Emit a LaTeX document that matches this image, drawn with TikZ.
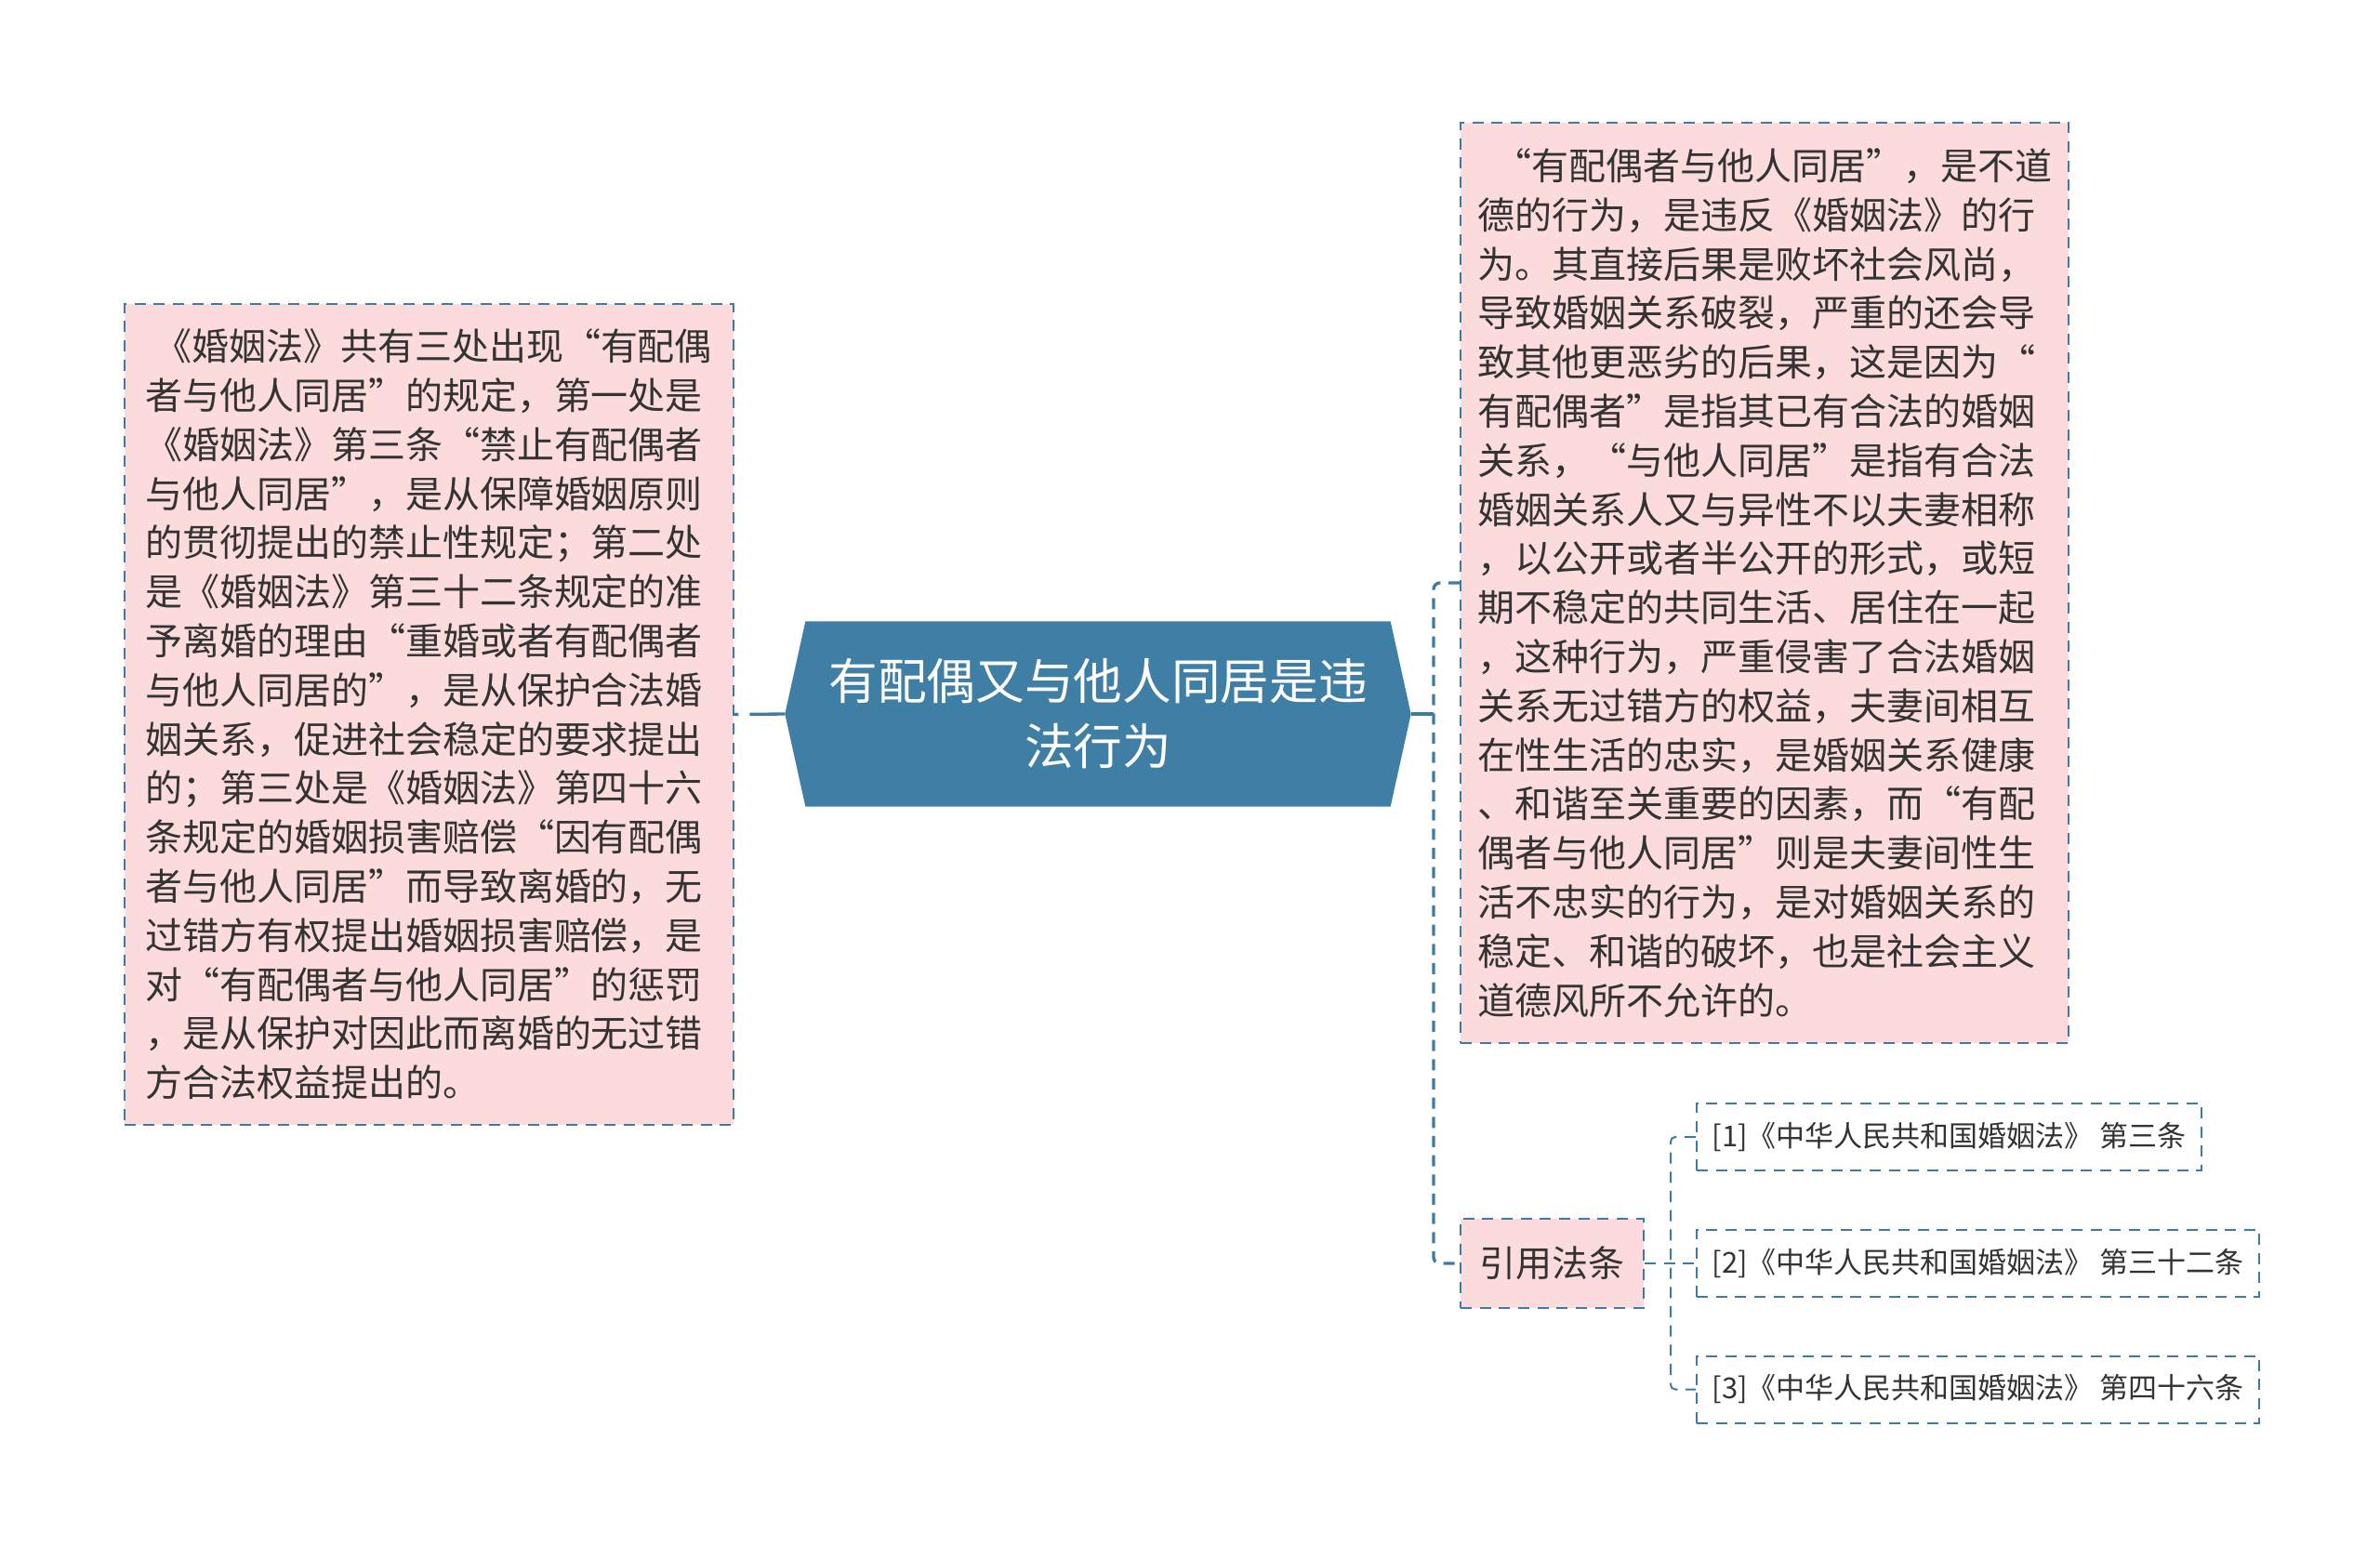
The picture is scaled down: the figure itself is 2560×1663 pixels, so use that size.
\documentclass[tikz,border=0pt]{standalone}
\usepackage{fontspec}
\setmainfont{Noto Sans CJK SC}
\usepackage{tikz}
\usetikzlibrary{calc,backgrounds}
\definecolor{linkblue}{HTML}{3E7BA3}
\definecolor{topicblue}{HTML}{3F7EA5}
\definecolor{notepink}{HTML}{FBDBDB}
\definecolor{inkgray}{HTML}{333333}
\tikzset{
	notebox/.style={draw=linkblue, line width=0.6pt, dash pattern=on 3.6pt off 2.6pt, fill=notepink, text=inkgray, align=left, inner sep=0pt, font=\fontsize{12}{15.84}\selectfont},
	refbox/.style={draw=linkblue, line width=0.6pt, dash pattern=on 3.6pt off 2.6pt, text=inkgray, inner xsep=5pt, inner ysep=0pt, minimum height=21.6pt, anchor=west, font=\fontsize{9.3}{11}\selectfont},
	link/.style={draw=linkblue, line width=1pt},
	branch/.style={draw=linkblue, line width=0.6pt, dash pattern=on 3.6pt off 2.6pt, rounded corners=1.5pt}
}

\begin{document}
\begin{tikzpicture}[x=0.3pt, y=-0.3pt]
		%%%%% START %%%%%
		\useasboundingbox (0, 0) rectangle (2560, 1663);
		
		\node[text=white, align=center, minimum width=188.4pt, minimum height=59.4pt, inner sep=0pt, font=\fontsize{15.8}{21}\selectfont] (topic) at (1181, 768) {有配偶又与他人同居是违\\法行为};
		\coordinate (tipL) at ($(topic.west)+(-22, 0)$);
		\coordinate (tipR) at ($(topic.east)+(22, 0)$);
		\begin{pgfonlayer}{background}
			\fill[topicblue] (topic.north west) -- (topic.north east) -- (tipR) -- (topic.south east) -- (topic.south west) -- (tipL) -- cycle;
		\end{pgfonlayer}
		
		\node[notebox, minimum width=196.5pt, minimum height=264.9pt] (lbox) at (461, 768.5) {\hspace*{0.25em}《婚姻法》共有三处出现“有配偶\\者与他人同居”的规定，第一处是\\《婚姻法》第三条“禁止有配偶者\\与他人同居”，是从保障婚姻原则\\的贯彻提出的禁止性规定；第二处\\是《婚姻法》第三十二条规定的准\\予离婚的理由“重婚或者有配偶者\\与他人同居的”，是从保护合法婚\\姻关系，促进社会稳定的要求提出\\的；第三处是《婚姻法》第四十六\\条规定的婚姻损害赔偿“因有配偶\\者与他人同居”而导致离婚的，无\\过错方有权提出婚姻损害赔偿，是\\对“有配偶者与他人同居”的惩罚\\，是从保护对因此而离婚的无过错\\方合法权益提出的。};
		
		\node[notebox, minimum width=196.2pt, minimum height=297pt] (rbox) at (1898, 627) {\hspace*{0.45em}“有配偶者与他人同居”，是不道\\德的行为，是违反《婚姻法》的行\\为。其直接后果是败坏社会风尚，\\导致婚姻关系破裂，严重的还会导\\致其他更恶劣的后果，这是因为“\\有配偶者”是指其已有合法的婚姻\\关系，“与他人同居”是指有合法\\婚姻关系人又与异性不以夫妻相称\\，以公开或者半公开的形式，或短\\期不稳定的共同生活、居住在一起\\，这种行为，严重侵害了合法婚姻\\关系无过错方的权益，夫妻间相互\\在性生活的忠实，是婚姻关系健康\\、和谐至关重要的因素，而“有配\\偶者与他人同居”则是夫妻间性生\\活不忠实的行为，是对婚姻关系的\\稳定、和谐的破坏，也是社会主义\\道德风所不允许的。};
		
		\node[notebox, align=center, minimum width=59.1pt, minimum height=28.8pt, font=\fontsize{11.7}{14}\selectfont] (cite) at (1669.5, 1359) {引用法条};
		
		\node[refbox] (ref1) at (1824, 1223) {[1]《中华人民共和国婚姻法》 第三条};
		\node[refbox] (ref2) at (1824, 1359) {[2]《中华人民共和国婚姻法》 第三十二条};
		\node[refbox] (ref3) at (1824, 1494.5) {[3]《中华人民共和国婚姻法》 第四十六条};
		
		\coordinate (rjoin) at (1542, 768);
		\coordinate (cjoin) at (1797, 1359);
		
		\draw[link, dash pattern=on 11.4pt off 3.6pt] (tipL) -- (lbox.east);
		\draw[link] (tipR) -- (rjoin);
		\draw[link, dash pattern=on 3.6pt off 2.6pt, rounded corners=2pt] (rbox.west) -| (rjoin) |- (cite.west);
		
		\draw[branch] (ref1.west) -| (cjoin) |- (ref3.west);
		\draw[branch] (cite.east) -- (ref2.west);
		
		%%%%% END %%%%%
	\end{tikzpicture}
\end{document}
